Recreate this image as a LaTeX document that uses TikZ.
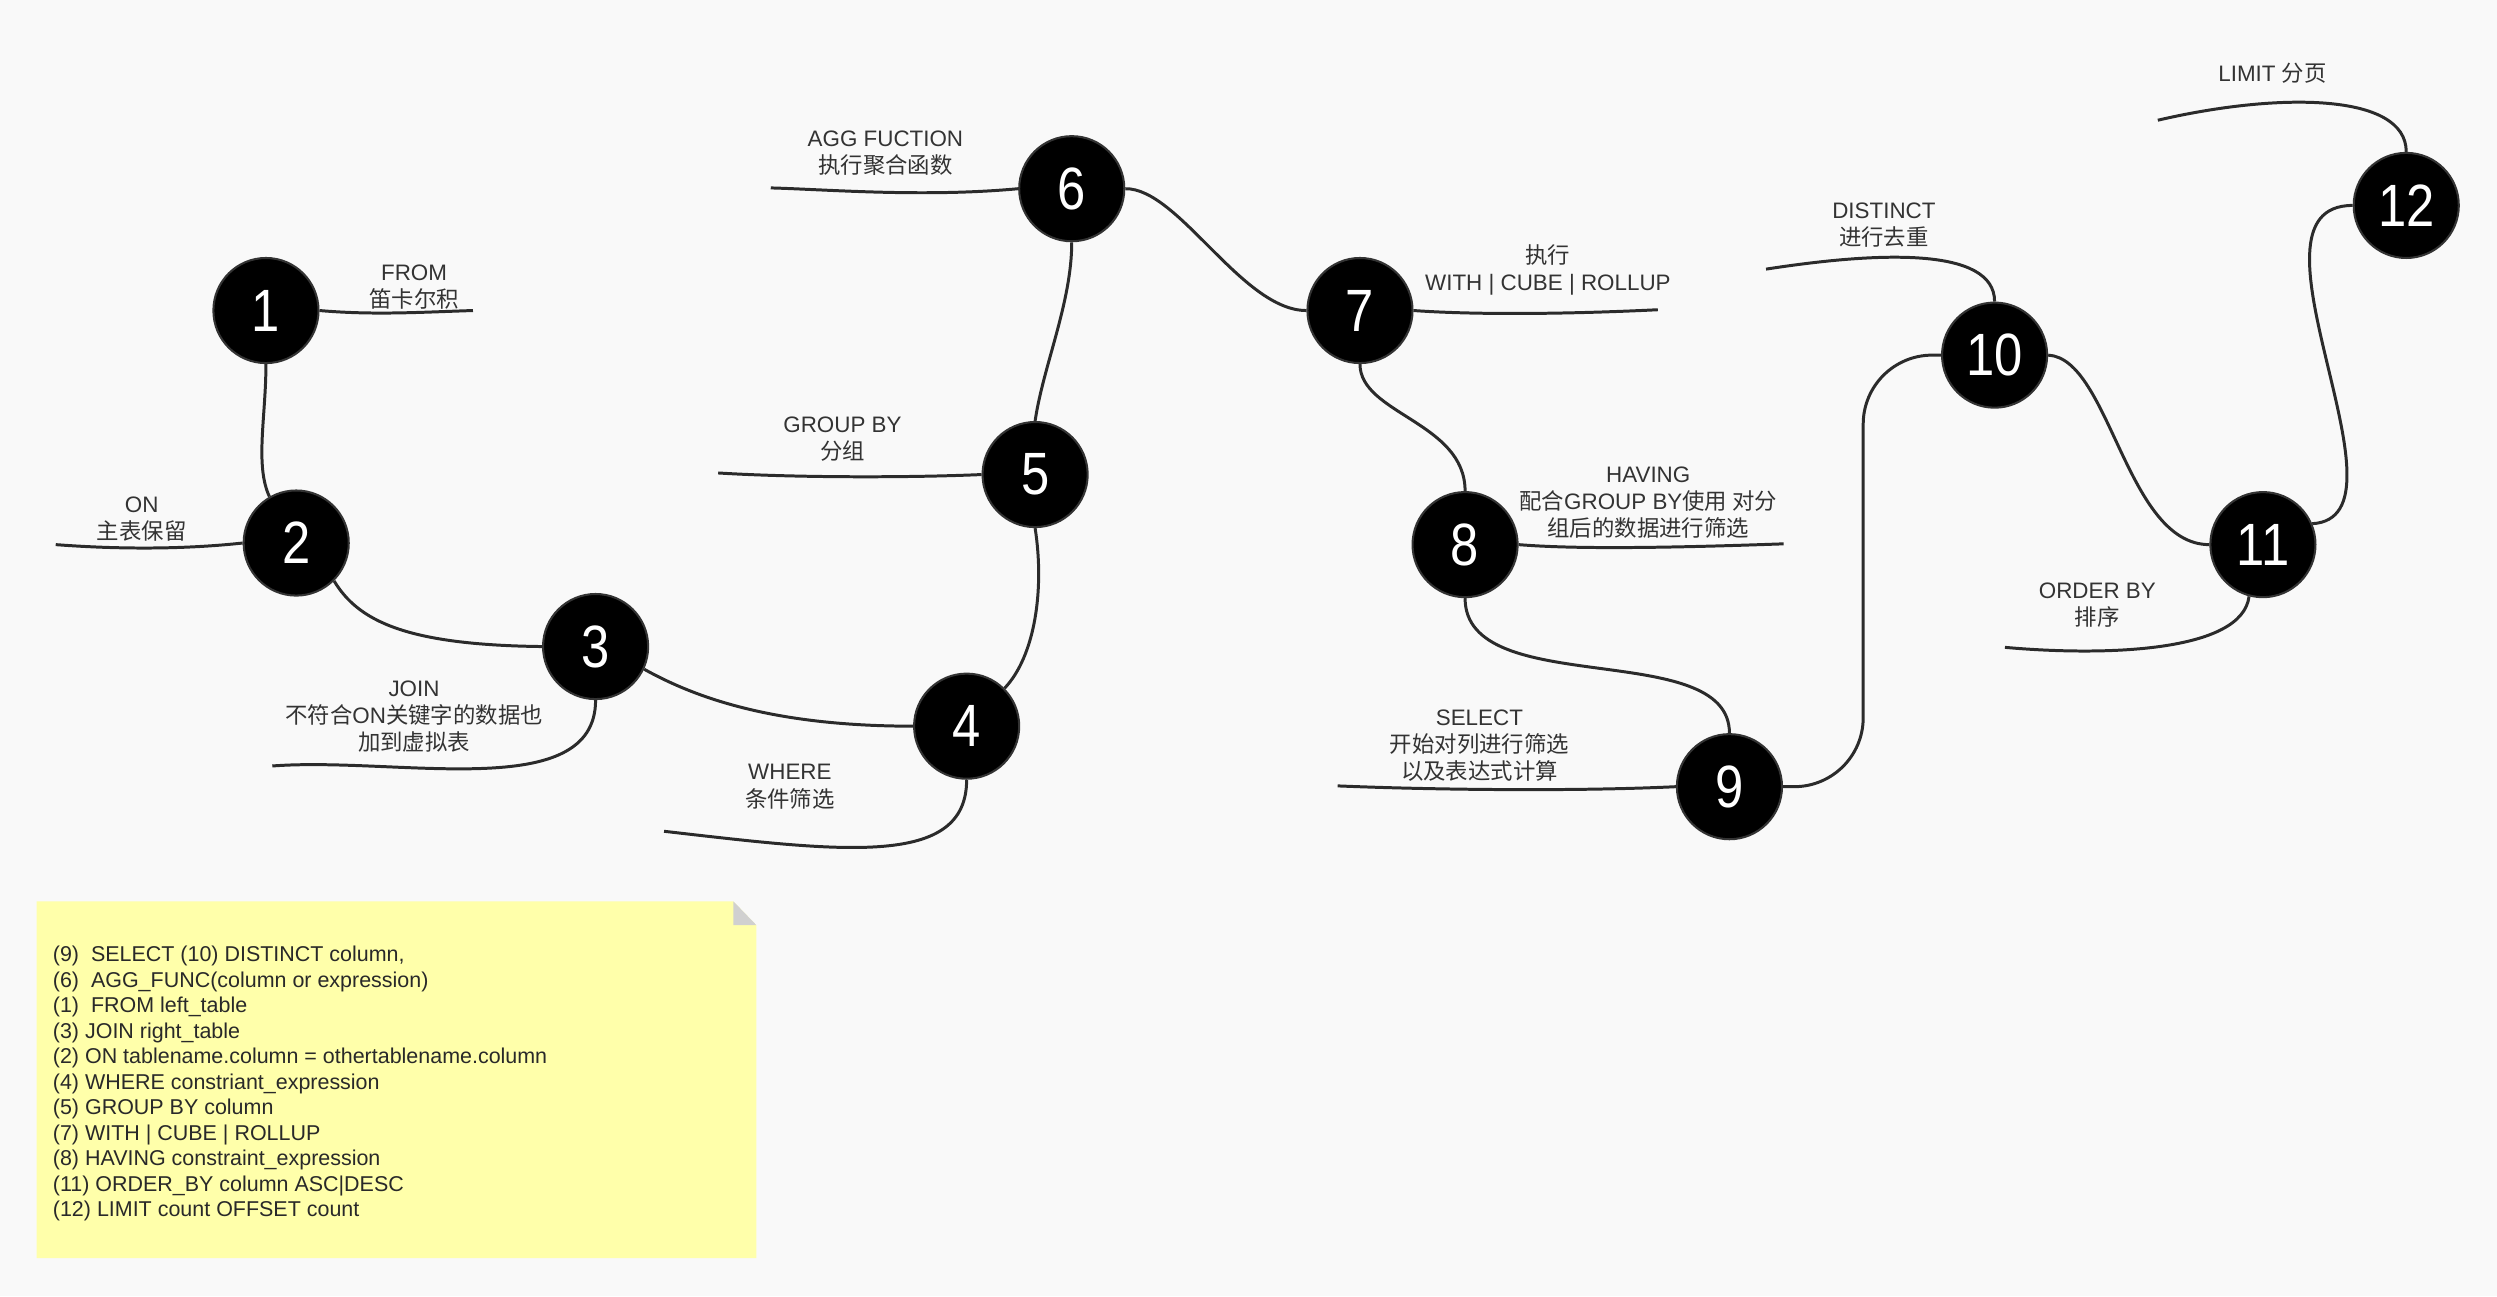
\documentclass[tikz,border=0pt]{standalone}
\usepackage{fontspec}
\setmainfont{Liberation Sans}
\newfontfamily\cjk{Noto Sans CJK SC}
\newfontfamily\digitfont[FakeStretch=0.85]{Liberation Sans}
\definecolor{paper}{RGB}{249,249,249}
\definecolor{ink}{RGB}{51,51,51}
\definecolor{notey}{RGB}{255,255,170}
\definecolor{fold}{RGB}{208,208,208}
\tikzset{
  stage/.style={circle, fill=black, draw=ink, line width=1.1pt, minimum size=1.98cm,
    inner sep=0pt, text=white, font=\digitfont\fontsize{32}{32}\selectfont},
  link/.style={draw=ink!85!black, line width=1.6pt},
  tag/.style={align=center, text=ink, font=\fontsize{12}{14.5}\selectfont, inner sep=0pt},
  memo/.style={align=left, text=ink!80!black, font=\fontsize{11.5}{13.66}\selectfont, inner sep=0pt},
}
\begin{document}
\begin{tikzpicture}[x=0.03cm,y=-0.03cm]
\fill[paper] (0,0) rectangle (1568,814);
\useasboundingbox (0,0) rectangle (1568,814);

% steps
\node[stage] (n1) at (167,195) {1};
\node[stage] (n2) at (186,341) {2};
\node[stage] (n3) at (374,406) {3};
\node[stage] (n4) at (607,456) {4};
\node[stage] (n5) at (650,298) {5};
\node[stage] (n6) at (673,118.5) {6};
\node[stage] (n7) at (854,195) {7};
\node[stage] (n8) at (920,342) {8};
\node[stage] (n9) at (1086,494) {9};
\node[stage] (n10) at (1252.5,223) {10};
\node[stage] (n11) at (1421,342) {11};
\node[stage] (n12) at (1511,129) {12};

% free ends
\coordinate (e1) at (297,195);
\coordinate (e2) at (35,342);
\coordinate (e3) at (171,481);
\coordinate (e4) at (417,522);
\coordinate (e5) at (451,297);
\coordinate (e6) at (484,118);
\coordinate (e7) at (1041,194.5);
\coordinate (e8) at (1120,341.5);
\coordinate (e9) at (840,493.5);
\coordinate (e10) at (1109,169);
\coordinate (e11) at (1259,406.5);
\coordinate (e12) at (1355,75.5);

% path
\draw[link] (n1.south) .. controls (167,262) and (160,292) .. (n2.120);
\draw[link] (n2.-45) .. controls (225,390) and (255,405) .. (n3.west);
\draw[link] (n3.-25) .. controls (440,440) and (490,456) .. (n4.west);
\draw[link] (n4.45) .. controls (650,412) and (656,370) .. (n5.south);
\draw[link] (n5.north) .. controls (655,230) and (673,190) .. (n6.south);
\draw[link] (n6.east) .. controls (740,118) and (780,195) .. (n7.west);
\draw[link] (n7.south) .. controls (854,260) and (920,265) .. (n8.north);
\draw[link] (n8.south) .. controls (920,440) and (1086,400) .. (n9.north);
\draw[link, rounded corners=1.3cm] (n9.east) -| (1170,360) |- (n10.west);
\draw[link] (n10.east) .. controls (1325,225) and (1335,342) .. (n11.west);
\draw[link] (n11.23) .. controls (1520,325) and (1400,129) .. (n12.west);

% branches
\draw[link] (n1.east) .. controls (235,198) and (265,196) .. (e1);
\draw[link] (e2) .. controls (75,345) and (115,345) .. (n2.west);
\draw[link] (n3.south) .. controls (374,505) and (250,475) .. (e3);
\draw[link] (n4.south) .. controls (607,545) and (530,535) .. (e4);
\draw[link] (e5) .. controls (500,300) and (570,300) .. (n5.west);
\draw[link] (e6) .. controls (520,119) and (580,124) .. (n6.west);
\draw[link] (n7.east) .. controls (930,198) and (990,197) .. (e7);
\draw[link] (n8.east) .. controls (990,345) and (1050,344) .. (e8);
\draw[link] (e9) .. controls (900,496) and (990,497) .. (n9.west);
\draw[link] (n10.north) .. controls (1252.5,155) and (1180,158) .. (e10);
\draw[link] (n11.-105) .. controls (1408,410) and (1320,412) .. (e11);
\draw[link] (n12.north) .. controls (1511,58) and (1430,58) .. (e12);

% labels
\node[tag] (lfrom) at (260,180) {FROM\\{\cjk 笛卡尔积}};
\node[tag] (lon) at (89,326) {ON\\{\cjk 主表保留}};
\node[tag] (ljoin) at (260,450) {JOIN\\{\cjk 不符合}ON{\cjk 关键字的数据也}\\{\cjk 加到虚拟表}};
\node[tag] (lwhere) at (496,494) {WHERE\\{\cjk 条件筛选}};
\node[tag] (lgroup) at (529,276) {GROUP BY\\{\cjk 分组}};
\node[tag] (lagg) at (556,96) {AGG FUCTION\\{\cjk 执行聚合函数}};
\node[tag] (lwith) at (972,169.5) {{\cjk 执行}\\WITH | CUBE | ROLLUP};
\node[tag] (lhaving) at (1035,315.5) {HAVING\\{\cjk 配合}GROUP BY{\cjk 使用 对分}\\{\cjk 组后的数据进行筛选}};
\node[tag] (lselect) at (929,468) {SELECT\\{\cjk 开始对列进行筛选}\\{\cjk 以及表达式计算}};
\node[tag] (ldistinct) at (1183,141.5) {DISTINCT\\{\cjk 进行去重}};
\node[tag] (lorder) at (1317,380) {ORDER BY\\{\cjk 排序}};
\node[tag] (llimit) at (1427,46) {LIMIT {\cjk 分页}};

% note
\fill[notey] (23,566) -- (460.5,566) -- (475,581) -- (475,790) -- (23,790) -- cycle;
\fill[fold] (460.5,566) -- (460.5,581) -- (475,581) -- cycle;
\node[memo, anchor=north west] (sql) at (33,594) {%
(9)\ \ SELECT (10) DISTINCT column,\\
(6)\ \ AGG\_FUNC(column or expression)\\
(1)\ \ FROM left\_table\\
(3) JOIN right\_table\\
(2) ON tablename.column = othertablename.column\\
(4) WHERE constriant\_expression\\
(5) GROUP BY column\\
(7) WITH | CUBE | ROLLUP\\
(8) HAVING constraint\_expression\\
(11) ORDER\_BY column ASC|DESC\\
(12) LIMIT count OFFSET count};
\end{tikzpicture}
\end{document}
